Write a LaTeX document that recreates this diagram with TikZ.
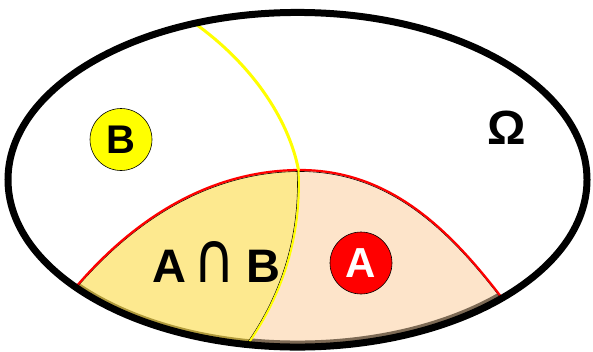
\documentclass[tikz,border=0pt]{standalone}
\usepackage{fontspec}
\setmainfont{Liberation Sans}
\newfontfamily\capfont{DejaVu Sans}
\definecolor{afill}{HTML}{FDE4CA}
\definecolor{abfill}{HTML}{FDE98F}
\definecolor{yel}{HTML}{FFFF00}
\definecolor{rd}{HTML}{FF0000}
\definecolor{brshadow}{HTML}{7D6A55}
\definecolor{olshadow}{HTML}{B09A3C}
\def\OmegaPath{(297.5,179.75) ellipse [x radius=289.5, y radius=167.3]}
\def\ArcPath{(75,288) .. controls (150,200) and (230,170) .. (300,170) .. controls (390,170) and (450,230) .. (502,298)}
\def\RegionA{(60,306) -- \ArcPath -- (515,315) -- (600,400) -- (0,400) -- cycle}
\def\BTop{(190,20) .. controls (250,61.4) and (288.5,118) .. (298.5,170)}
\def\BBottom{(298.5,170) .. controls (302,240) and (280,300) .. (245,348)}
\tikzset{
  setcircle/.style={circle, draw=black, line width=0.6pt, minimum size=62pt, inner sep=0pt},
  bigtext/.style={font=\fontsize{#1}{#1}\selectfont\bfseries, inner sep=0pt}
}
\begin{document}
\begin{tikzpicture}[x=1pt,y=-1pt]
\useasboundingbox (0,0) rectangle (593,351);
\begin{scope}
  \clip \OmegaPath;
  \fill[afill] \RegionA;
  \begin{scope}
    \clip \RegionA;
    \draw[brshadow, line width=13pt] \OmegaPath;
    \begin{scope}
      \clip \BTop -- (298.5,170) .. controls (302,240) and (280,300) .. (245,348) -- (240,400) -- (-10,400) -- (-10,20) -- cycle;
      \fill[abfill] (0,0) rectangle (600,400);
      \draw[olshadow, line width=11pt] \OmegaPath;
    \end{scope}
  \end{scope}
  % boundary of A
  \draw[black, line width=0.6pt, yshift=-1.5pt] \ArcPath;
  \draw[rd, line width=2.2pt] (72,290) -- \ArcPath -- (505,302);
  % boundary of B
  \draw[black, line width=0.6pt, xshift=-1.4pt] \BBottom;
  \draw[yel, line width=2pt] \BBottom;
  \draw[yel, line width=3pt] (186,17) -- \BTop;
\end{scope}
\draw[black, line width=7pt] \OmegaPath;
\node[setcircle, fill=yel] (bcirc) at (121,139.5) {\fontsize{40}{40}\selectfont\bfseries B};
\node[setcircle, fill=rd] (acirc) at (361,263) {\fontsize{42}{42}\selectfont\bfseries\color{white}A};
\node[bigtext=47, anchor=base west] (inter) at (152,282)
  {A\hspace{7pt}\resizebox{42pt}{41pt}{\capfont\mdseries ∩}\hspace{11pt}B};
\node[bigtext=48] (omega) at (507,128) {Ω};
\end{tikzpicture}
\end{document}
